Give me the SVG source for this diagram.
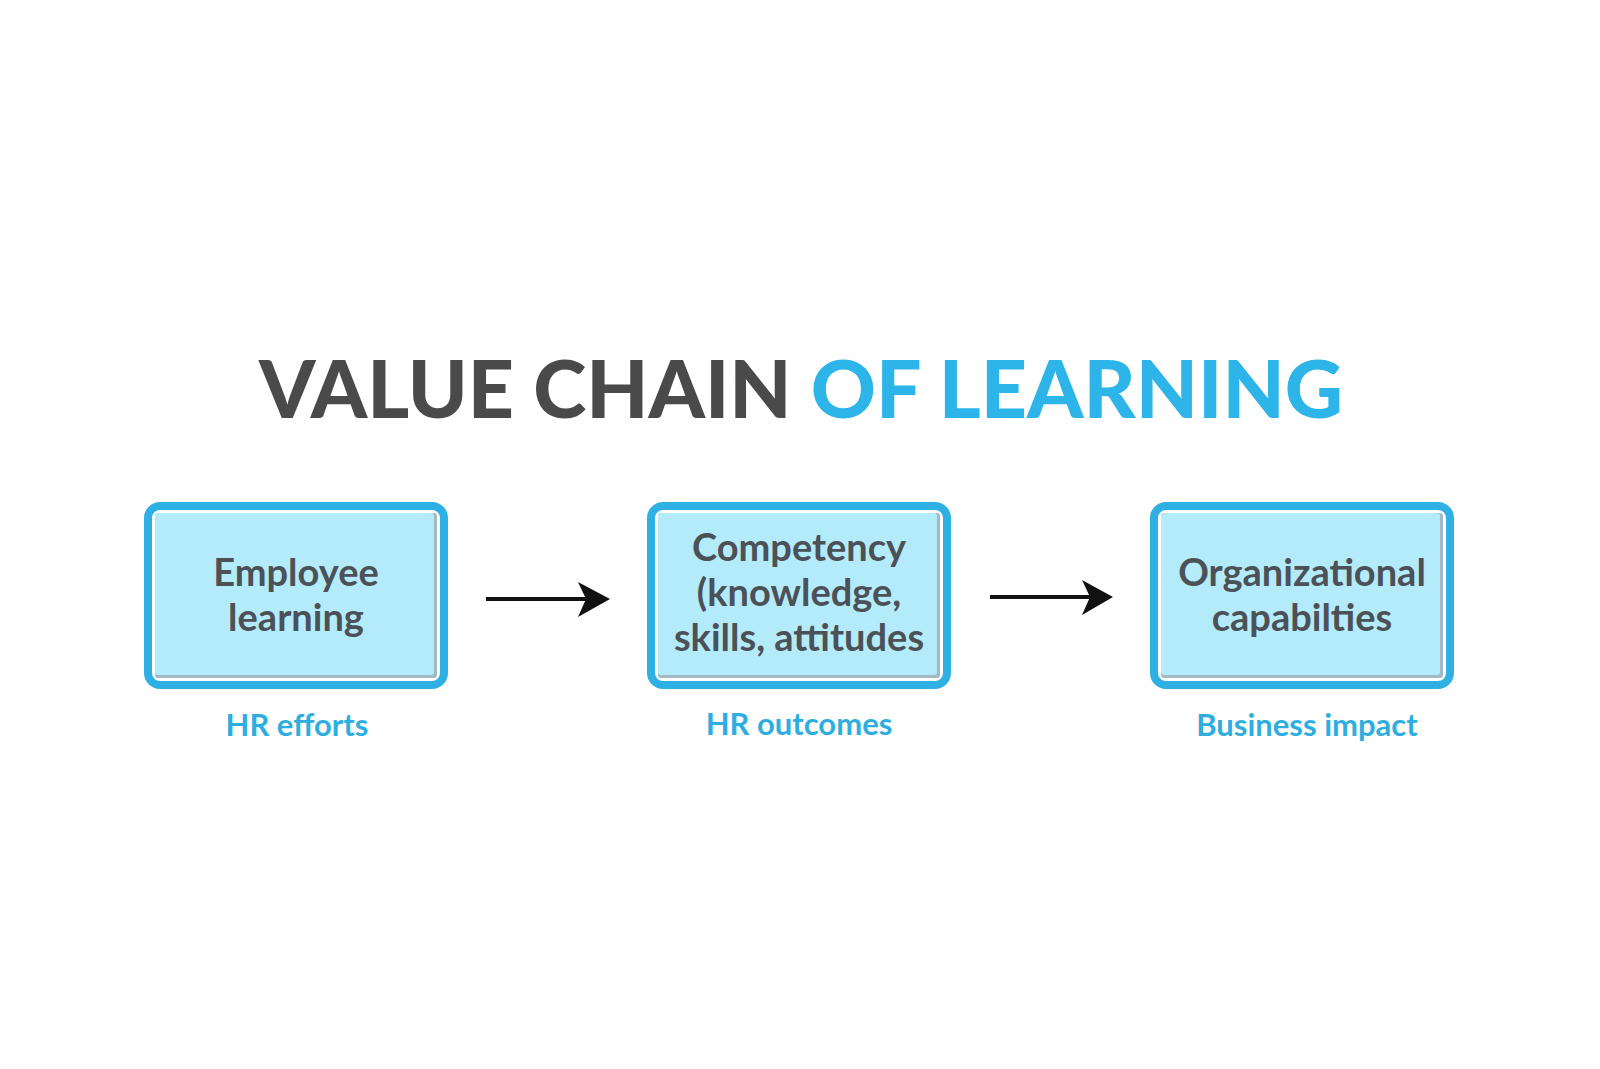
<svg xmlns="http://www.w3.org/2000/svg" width="1600" height="1069" viewBox="0 0 1600 1069">
  <style>
    .title { font-family: Lato, "Liberation Sans", sans-serif; font-weight: 900; font-size: 80.5px; }
    .dark { fill: #4a4a4b; }
    .blue { fill: #2db4e9; }
    .box-border { fill: #ffffff; stroke: #2eb0e4; stroke-width: 8; }
    .box-shadow { fill: #a3b9c4; }
    .box-fill { fill: #b4ebfb; }
    .box-text { font-family: Lato, "Liberation Sans", sans-serif; font-weight: 700; font-size: 38px; fill: #4b5157; text-anchor: middle; }
    .label { font-family: Lato, "Liberation Sans", sans-serif; font-weight: 700; font-size: 31px; fill: #2eaee0; text-anchor: middle; }
    .conn-line { stroke: #111111; stroke-width: 4; fill: none; }
    .conn-head { fill: #111111; }
  </style>
  <defs>
    <g id="boxShape">
      <rect class="box-border" x="4" y="4" width="296" height="179" rx="12"/>
      <rect class="box-shadow" x="11" y="11" width="282" height="165" rx="3"/>
      <rect class="box-fill" x="11" y="11" width="279" height="162" rx="3"/>
    </g>
  </defs>
  <rect width="1600" height="1069" fill="#ffffff"/>

  <g id="title">
    <text class="title" x="801" y="418" text-anchor="middle"><tspan class="dark">VALUE CHAIN </tspan><tspan class="blue">OF LEARNING</tspan></text>
  </g>

  <g id="node-employee-learning">
    <use href="#boxShape" x="144" y="502"/>
    <text class="box-text" x="296" y="586">Employee</text>
    <text class="box-text" x="296" y="631">learning</text>
    <text class="label" x="297" y="736">HR efforts</text>
  </g>

  <g id="node-competency">
    <use href="#boxShape" x="647" y="502"/>
    <text class="box-text" x="799" y="561">Competency</text>
    <text class="box-text" x="799" y="606">(knowledge,</text>
    <text class="box-text" x="799" y="651">skills, attitudes</text>
    <text class="label" x="799" y="735">HR outcomes</text>
  </g>

  <g id="node-organizational-capabilities">
    <use href="#boxShape" x="1150" y="502"/>
    <text class="box-text" x="1302" y="586">Organizational</text>
    <text class="box-text" x="1302" y="631">capabilties</text>
    <text class="label" x="1307" y="736">Business impact</text>
  </g>

  <g id="connectors">
    <line class="conn-line" x1="486" y1="599" x2="592" y2="599"/>
    <path class="conn-head" d="M610,599 L578,582 L586,599 L578,617 Z"/>
    <line class="conn-line" x1="990" y1="597" x2="1095" y2="597"/>
    <path class="conn-head" d="M1113,597 L1082,580 L1090,597 L1082,615 Z"/>
  </g>
</svg>
